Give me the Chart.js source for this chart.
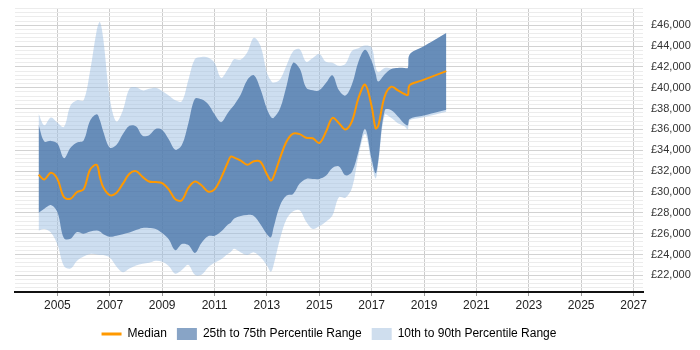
<!DOCTYPE html>
<html>
<head>
<meta charset="utf-8">
<script src="https://cdn.jsdelivr.net/npm/chart.js@4.4.1/dist/chart.umd.min.js"></script>
<style>
  html, body { margin: 0; padding: 0; background: #fff; }
  #wrap { width: 700px; height: 350px; }
</style>
</head>
<body>
<div id="wrap"><canvas id="chart" width="700" height="350"></canvas></div>
<script>
// sample dates (decimal years)
const years = [2004.28, 2004.5, 2004.75, 2005, 2005.25, 2005.5, 2005.75, 2006, 2006.25, 2006.5,
    2006.62, 2006.75, 2007, 2007.25, 2007.5, 2007.75, 2008, 2008.25, 2008.5, 2008.75,
    2009, 2009.25, 2009.5, 2009.75, 2010, 2010.25, 2010.5, 2010.75, 2011, 2011.25,
    2011.5, 2011.62, 2011.75, 2012, 2012.25, 2012.5, 2012.75, 2013, 2013.15, 2013.25,
    2013.5, 2013.75, 2014, 2014.25, 2014.5, 2014.75, 2015, 2015.25, 2015.5, 2015.75,
    2016, 2016.25, 2016.5, 2016.75, 2017, 2017.15, 2017.25, 2017.5, 2017.75, 2018,
    2018.25, 2018.38, 2018.45, 2018.9, 2019.4, 2019.85];

const median = [31650, 31200, 31850, 31250, 29500, 29350, 30000, 30250, 32150, 32600,
    31450, 30450, 29700, 29900, 30800, 31750, 32000, 31450, 31000, 30950,
    30850, 30250, 29300, 29200, 30400, 31000, 30650, 30050, 30250, 31350,
    32800, 33400, 33300, 33000, 32600, 32950, 32900, 31700, 31100, 31450,
    33250, 34850, 35600, 35550, 35200, 35150, 34700, 35750, 37100, 36600,
    36000, 36800, 39050, 40300, 38200, 36100, 36350, 39200, 40100, 39750,
    39400, 39300, 40250, 40680, 41170, 41600];

const p75 = [36450, 34850, 34900, 34650, 33250, 34250, 34750, 34950, 36850, 37450,
    36900, 35800, 34250, 34500, 35550, 36350, 36300, 35400, 35450, 36050,
    35950, 35050, 34050, 34500, 36600, 38950, 38900, 38450, 37450, 36700,
    37550, 37950, 38350, 39350, 40750, 41200, 39900, 37950, 37200, 37100,
    38000, 40200, 42400, 41850, 40000, 39750, 39750, 40450, 41200, 39750,
    39250, 40350, 42550, 43650, 42550, 41350, 40600, 41300, 41800, 41900,
    41900, 41900, 43200, 43860, 44590, 45250];

const p25 = [28000, 28400, 28750, 28050, 25550, 25500, 26150, 26000, 26200, 26300,
    26200, 25950, 25700, 25800, 25950, 26100, 26350, 26550, 26550, 26450,
    26050, 25450, 24400, 25000, 24900, 24150, 25100, 25750, 25800, 26200,
    26850, 27050, 27450, 27700, 27800, 27700, 26900, 25950, 25650, 26550,
    28700, 29650, 29800, 30800, 31250, 31250, 31250, 31550, 32300, 32450,
    31600, 31950, 33900, 36050, 33150, 31800, 33000, 37850, 37850, 37250,
    36550, 36400, 37000, 37290, 37610, 37900];

const p90 = [37500, 36400, 37150, 36650, 36250, 38300, 38800, 38800, 41650, 45500,
    46300, 44700, 39000, 36750, 37850, 39900, 40050, 39750, 39900, 40000,
    39700, 39250, 38800, 38700, 40750, 42750, 42950, 42900, 42400, 40950,
    41750, 42250, 42750, 42700, 43400, 44800, 44050, 41450, 40700, 40500,
    40800, 42150, 43500, 43700, 42500, 42850, 43250, 42500, 42400, 42100,
    42300, 43550, 43800, 44050, 43850, 42050, 41500, 41900, 41850, 41900,
    41900, 41900, 43200, 43860, 44590, 45250];

const p10 = [26300, 26450, 26100, 24950, 22900, 22650, 23400, 23800, 24050, 24000,
    23950, 23950, 23700, 22850, 22300, 22650, 22950, 23100, 23200, 23400,
    23300, 22900, 22150, 22500, 23000, 22050, 22050, 22750, 23200, 23550,
    24050, 24250, 24550, 24200, 23950, 24200, 23750, 22950, 22350, 22950,
    25500, 27400, 28150, 28250, 27150, 26450, 26700, 27150, 27750, 29500,
    29450, 30400, 33500, 35550, 32700, 31300, 32700, 37400, 37100, 36600,
    36300, 36000, 36850, 37120, 37410, 37700];

const yearTicks = [2005, 2007, 2009, 2011, 2013, 2015, 2017, 2019, 2021, 2023, 2025, 2027];
const salaryLabels = [22000, 24000, 26000, 28000, 30000, 32000, 34000, 36000, 38000, 40000, 42000, 44000, 46000];

const FONT = "'Liberation Sans', Arial, sans-serif";
const ORANGE = '#ff9900';
const DARK_FILL = 'rgba(69, 114, 167, 0.75)';
const LIGHT_FILL = 'rgba(155, 190, 225, 0.5)';
const TENSION = 0.35;

function pts(vals) {
    return vals.map((v, i) => ({ x: years[i], y: v }));
}

function band(label, vals, fill, bg) {
    return {
        label: label, data: pts(vals), fill: fill, backgroundColor: bg,
        borderColor: 'transparent', borderWidth: 0, pointRadius: 0, tension: TENSION
    };
}

const Y_MIN = 20400, Y_MAX = 47600, Y_STEP = 400;

new Chart(document.getElementById('chart'), {
    type: 'line',
    data: {
        datasets: [
            {
                label: 'Median', data: pts(median), borderColor: ORANGE, borderWidth: 2,
                pointRadius: 0, fill: false, tension: TENSION
            },
            band('p75', p75, 2, DARK_FILL),
            band('p25', p25, false, 'transparent'),
            band('p90', p90, 4, LIGHT_FILL),
            band('p10', p10, false, 'transparent')
        ]
    },
    options: {
        responsive: false,
        animation: false,
        layout: { padding: { left: 15, right: 0, top: 5, bottom: 0 } },
        plugins: {
            tooltip: { enabled: false },
            legend: {
                position: 'bottom',
                fullSize: false,
                labels: {
                    usePointStyle: true,
                    pointStyleWidth: 20,
                    boxHeight: 12,
                    padding: 10,
                    color: '#222',
                    font: { family: FONT, size: 12, lineHeight: 1 },
                    generateLabels: () => [
                        { text: 'Median', pointStyle: 'line', strokeStyle: ORANGE, fillStyle: ORANGE, lineWidth: 3, datasetIndex: 0 },
                        { text: '25th to 75th Percentile Range', pointStyle: 'rect', fillStyle: '#88a4c6', strokeStyle: '#88a4c6', lineWidth: 0, datasetIndex: 1 },
                        { text: '10th to 90th Percentile Range', pointStyle: 'rect', fillStyle: '#cfdeee', strokeStyle: '#cfdeee', lineWidth: 0, datasetIndex: 3 }
                    ]
                }
            }
        },
        scales: {
            x: {
                type: 'linear',
                min: 2003.38, max: 2027.36,
                afterBuildTicks: s => { s.ticks = yearTicks.map(v => ({ value: v })); },
                afterFit: s => { s.height = 26; },
                ticks: {
                    autoSkip: false, maxRotation: 0, padding: 2, color: '#222',
                    font: { family: FONT, size: 12 },
                    callback: v => String(v)
                },
                grid: { color: '#cccccc', tickLength: 4, tickColor: '#999' },
                border: { color: '#111', width: 2 }
            },
            y: {
                position: 'right',
                min: Y_MIN, max: Y_MAX,
                afterBuildTicks: s => {
                    const t = [];
                    for (let v = Y_MIN; v <= Y_MAX; v += Y_STEP) t.push({ value: v });
                    s.ticks = t;
                },
                afterFit: s => { s.width = 57; },
                ticks: {
                    autoSkip: false, padding: 8, color: '#333',
                    font: { family: FONT, size: 11, lineHeight: 0.1 },
                    callback: v => salaryLabels.includes(v) ? '£' + v.toLocaleString('en-GB') : ''
                },
                grid: {
                    drawTicks: false,
                    color: c => (c.tick && c.tick.value % 2000 === 0) ? '#d2d2d2' : '#ececec'
                },
                border: { display: false }
            }
        }
    }
});
</script>
</body>
</html>
